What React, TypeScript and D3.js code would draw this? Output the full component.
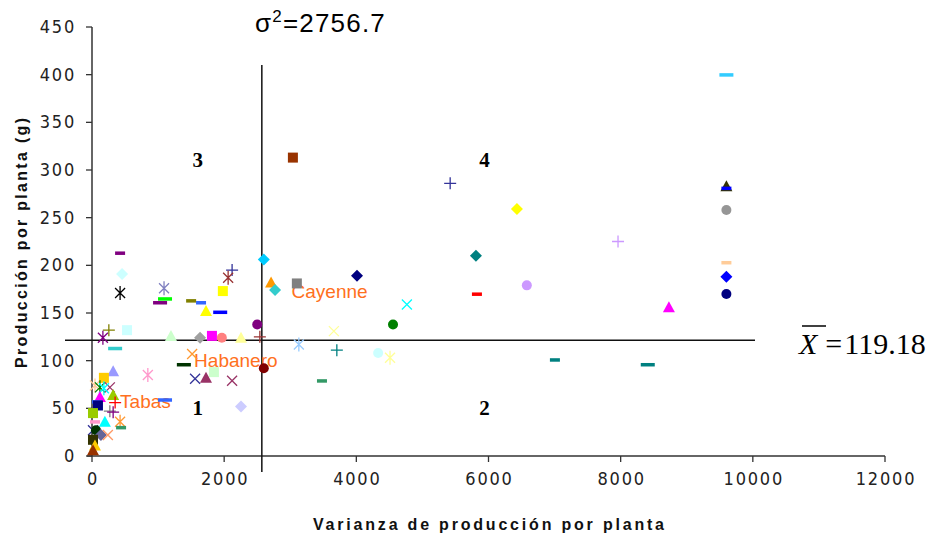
import React from "react";
import * as d3 from "d3";

// ---- data ----
const varianza = [
  9600, 9600, 9600, 9600, 9600, 9600, 9600, 8730, 7960, 8410,
  7005, 6580, 6430, 5810, 5825, 5420, 4765, 4555, 4330, 4510,
  3705, 3660, 3130, 4010, 3100, 3480, 3040, 2600, 2710, 2770,
  2600, 2500, 2540, 2120, 2060, 1980, 1940, 1725, 1650, 1500,
  1635, 1815, 1965, 2255, 1515, 1390, 1845, 1560, 1725, 2120,
  2255, 845, 1195, 530, 255, 165, 350, 320, 180, 425,
  455, 425, 1090, 1105, 1030, 1105, 45, 120, 270, 180,
  320, 120, 75, 350, 90, 270, 320, 15, 45, 195,
  425, 440, 15, 60, 135, 240, 15, 45, 15,
];
const produccion = [
  400, 283, 281, 258, 203, 188, 170, 156, 225, 96,
  101, 179, 259, 210, 170, 286, 159, 138, 108, 103,
  111, 131, 117, 189, 181, 79, 313, 206, 182, 174,
  92, 138, 125, 195, 187, 173, 151, 152, 161, 163,
  124, 126, 124, 124, 107, 96, 88, 81, 82, 79,
  52, 85, 126, 132, 132, 124, 113, 89, 82, 213,
  191, 171, 176, 165, 161, 59, 74, 72, 72, 71,
  64, 62, 57, 56, 53, 47, 46, 45, 36, 36,
  36, 30, 27, 27, 22, 22, 17, 11, 6,
];
const shapes = [
  "longdash", "triangle", "dash", "circle", "dash", "diamond", "circle", "triangle", "plus", "longdash",
  "dash", "circle", "diamond", "diamond", "dash", "plus", "x", "circle", "circle", "star",
  "plus", "x", "star", "diamond", "square", "dash", "square", "diamond", "triangle", "diamond",
  "circle", "circle", "plus", "plus", "star", "square", "longdash", "triangle", "dash", "dash",
  "diamond", "square", "circle", "triangle", "x", "longdash", "square", "x", "triangle", "x",
  "diamond", "star", "triangle", "square", "plus", "star", "longdash", "triangle", "square", "dash",
  "diamond", "star", "star", "longdash", "longdash", "longdash", "star", "star", "x", "star",
  "triangle", "triangle", "dash", "plus", "square", "plus", "plus", "square", "dash", "triangle",
  "star", "dash", "x", "circle", "diamond", "x", "square", "triangle", "triangle",
];
const colors = [
  "#33CCFF", "#333300", "#0000FF", "#969696", "#FFCC99", "#0000FF", "#000080", "#FF00FF", "#CC99FF", "#008080",
  "#008080", "#CC99FF", "#FFFF00", "#008080", "#FF0000", "#333399", "#00FFFF", "#008000", "#CCFFFF", "#FFFF99",
  "#008080", "#FFFF99", "#99CCFF", "#000080", "#808080", "#339966", "#993300", "#00CCFF", "#FF9900", "#33CCCC",
  "#800000", "#800080", "#993333", "#333399", "#993333", "#FFFF00", "#0000FF", "#FFFF00", "#3366FF", "#808000",
  "#A0A0A0", "#FF00FF", "#FF8080", "#FFFF99", "#FF9933", "#003300", "#CCFFCC", "#333399", "#993366", "#993366",
  "#CCCCFF", "#FF99CC", "#CCFFCC", "#CCFFFF", "#808000", "#800080", "#33CCCC", "#9999FF", "#FFCC00", "#800080",
  "#CCFFFF", "#000000", "#8080C0", "#00FF00", "#800080", "#3366FF", "#FFCC99", "#008000", "#993366", "#00FFFF",
  "#99CC00", "#FF00FF", "#3366FF", "#FF0000", "#000080", "#808080", "#800080", "#99CC00", "#FF99CC", "#00FFFF",
  "#FF9933", "#339966", "#333399", "#003300", "#666699", "#FF9966", "#333300", "#FFCC00", "#993300",
];

const cultivarNames = ["Cayenne", "Habanero", "Tabas"];
const cultivarX = [3020, 1545, 425];
const cultivarY = [166, 93, 50];

const xTicks = [0, 2000, 4000, 6000, 8000, 10000, 12000];
const yTicks = [0, 50, 100, 150, 200, 250, 300, 350, 400, 450];
const quadrantNames = ["1", "2", "3", "4"];
const quadrantX = [1600, 5940, 1600, 5940];
const quadrantY = [43, 43, 303, 303];

const varianceLabel = "2756.7";
const meanLabel = "119.18";
const varLineX = 2570;
const meanLineY = 121.5;

// ---- layout ----
const W = 933;
const H = 538;
const x = d3.scaleLinear().domain([0, 12000]).range([92, 885]);
const y = d3.scaleLinear().domain([0, 450]).range([456, 27]);

function Marker({ shape, color, cx, cy }: { shape: string; color: string; cx: number; cy: number }) {
  const sw = 1.3;
  switch (shape) {
    case "square":
      return <rect x={cx - 5} y={cy - 5} width={10} height={10} fill={color} />;
    case "diamond":
      return <path d={`M${cx},${cy - 6}L${cx + 6},${cy}L${cx},${cy + 6}L${cx - 6},${cy}Z`} fill={color} />;
    case "triangle":
      return <path d={`M${cx},${cy - 6}L${cx + 6},${cy + 5}L${cx - 6},${cy + 5}Z`} fill={color} />;
    case "circle":
      return <circle cx={cx} cy={cy} r={5} fill={color} />;
    case "x":
      return (
        <path d={`M${cx - 5},${cy - 5}L${cx + 5},${cy + 5}M${cx - 5},${cy + 5}L${cx + 5},${cy - 5}`} stroke={color} strokeWidth={sw} fill="none" />
      );
    case "star":
      return (
        <path
          d={`M${cx - 5},${cy - 5}L${cx + 5},${cy + 5}M${cx - 5},${cy + 5}L${cx + 5},${cy - 5}M${cx},${cy - 7}L${cx},${cy + 7}`}
          stroke={color}
          strokeWidth={sw}
          fill="none"
        />
      );
    case "plus":
      return <path d={`M${cx - 6},${cy}L${cx + 6},${cy}M${cx},${cy - 6}L${cx},${cy + 6}`} stroke={color} strokeWidth={sw} fill="none" />;
    case "dash":
      return <rect x={cx - 5} y={cy - 1.5} width={10} height={3.5} fill={color} />;
    case "longdash":
      return <rect x={cx - 7} y={cy - 1.5} width={14} height={3.5} fill={color} />;
    default:
      return null;
  }
}

export default function App() {
  const tickFont = "'Liberation Sans Narrow', 'DejaVu Sans Condensed', sans-serif";
  return (
    <svg width={W} height={H} style={{ position: "absolute", left: 0, top: 0, background: "#fff" }}>
      {/* axes */}
      <line x1={x(0)} y1={y(450)} x2={x(0)} y2={y(0)} stroke="#333" strokeWidth={1.5} />
      <line x1={x(0) - 5} y1={y(0)} x2={x(12000)} y2={y(0)} stroke="#333" strokeWidth={1.5} />
      {yTicks.map((t) => (
        <g key={"y" + t}>
          <line x1={x(0) - 6} x2={x(0)} y1={y(t)} y2={y(t)} stroke="#333" strokeWidth={1.3} />
          <text x={76} y={y(t) + 6} textAnchor="end" fontFamily={tickFont} fontSize={18} letterSpacing={1.8} fill="#222">
            {t}
          </text>
        </g>
      ))}
      {xTicks.map((t) => (
        <g key={"x" + t}>
          <line x1={x(t)} x2={x(t)} y1={y(0)} y2={y(0) + 6} stroke="#333" strokeWidth={1.3} />
          <text x={x(t) + 1} y={y(0) + 29} textAnchor="middle" fontFamily={tickFont} fontSize={18} letterSpacing={1.8} fill="#222">
            {t}
          </text>
        </g>
      ))}

      {/* axis titles */}
      <text x={313} y={530} fontFamily="'Liberation Sans', Arial, sans-serif" fontWeight="bold" fontSize={16} textLength={351} lengthAdjust="spacing" fill="#111">
        Varianza de producción por planta
      </text>
      <text
        transform={`translate(27,368) rotate(-90)`}
        fontFamily="'Liberation Sans', Arial, sans-serif"
        fontWeight="bold"
        fontSize={16}
        textLength={250}
        lengthAdjust="spacing"
        fill="#111"
      >
        Producción por planta (g)
      </text>

      {/* reference lines */}
      <line x1={x(varLineX)} x2={x(varLineX)} y1={65} y2={472} stroke="#111" strokeWidth={1.5} />
      <line x1={65} x2={755} y1={y(meanLineY)} y2={y(meanLineY)} stroke="#111" strokeWidth={1.5} />

      {/* quadrant numbers */}
      {quadrantNames.map((q, i) => (
        <text key={q} x={x(quadrantX[i])} y={y(quadrantY[i])} textAnchor="middle" fontFamily="'Liberation Serif', 'Times New Roman', serif" fontWeight="bold" fontSize={21} fill="#000">
          {q}
        </text>
      ))}

      {/* cultivar labels */}
      {cultivarNames.map((n, i) => (
        <text key={n} x={x(cultivarX[i])} y={y(cultivarY[i])} fontFamily="'Liberation Sans', Arial, sans-serif" fontSize={19} fill="#FF7020">
          {n}
        </text>
      ))}

      {/* points */}
      {varianza.map((v, i) => (
        <Marker key={i} shape={shapes[i]} color={colors[i]} cx={x(v)} cy={y(produccion[i])} />
      ))}

      {/* annotations */}
      <text x={255} y={32} fontFamily="'Liberation Sans', Arial, sans-serif" fontSize={26} letterSpacing={1.2} fill="#000">
        σ<tspan dy={-10} fontSize={17}>2</tspan>
        <tspan dy={10}>={varianceLabel}</tspan>
      </text>
      <line x1={802} x2={826} y1={326} y2={326} stroke="#000" strokeWidth={1.5} />
      <text x={799} y={354} fontFamily="'Liberation Serif', 'Times New Roman', serif" fontSize={30} fill="#000">
        <tspan fontStyle="italic">X</tspan>
        <tspan dx={8}>=</tspan>
        <tspan dx={2}>{meanLabel}</tspan>
      </text>
    </svg>
  );
}
